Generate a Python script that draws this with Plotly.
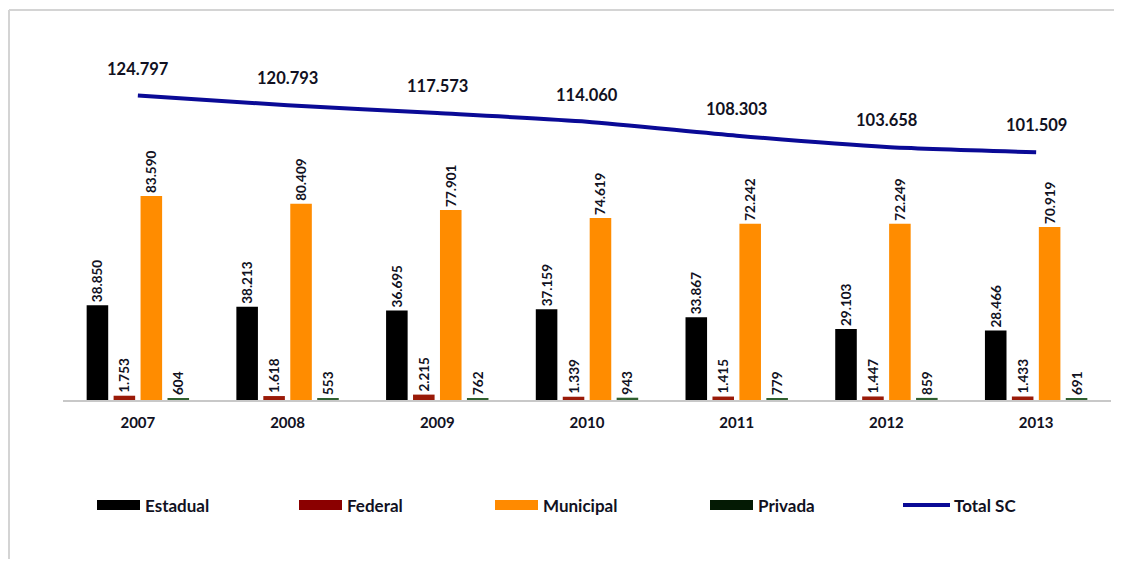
import plotly.graph_objects as go

years = ["2007", "2008", "2009", "2010", "2011", "2012", "2013"]
estadual = [38850, 38213, 36695, 37159, 33867, 29103, 28466]
federal = [1753, 1618, 2215, 1339, 1415, 1447, 1433]
municipal = [83590, 80409, 77901, 74619, 72242, 72249, 70919]
privada = [604, 553, 762, 943, 779, 859, 691]
total_sc = [124797, 120793, 117573, 114060, 108303, 103658, 101509]

series_names = ["Estadual", "Federal", "Municipal", "Privada"]
series_vals = [estadual, federal, municipal, privada]
bar_colors = ["#000000", "#9a1a08", "#ff8c00", "#2f5f2f"]
legend_colors = ["#000000", "#8b0000", "#ff8a00", "#041a04"]
line_color = "#0a0a96"

FONT = "Lato"
TXT = "#111122"


def fmt(v):
    return f"{v:,}".replace(",", ".")


fig = go.Figure()
for name, vals, col in zip(series_names, series_vals, bar_colors):
    fig.add_trace(go.Bar(
        x=years, y=vals, name=name, marker=dict(color=col, line=dict(width=0)),
        text=[fmt(v) for v in vals], textposition="outside", textangle=-90,
        constraintext="none",
        textfont=dict(family=FONT, size=13.5, color=TXT, weight="bold"),
        cliponaxis=False, showlegend=False,
    ))

fig.add_trace(go.Scatter(
    x=years, y=total_sc, name="Total SC", mode="lines",
    line=dict(color=line_color, width=4, shape="spline", smoothing=0.6),
    showlegend=False,
))

for i, v in enumerate(total_sc):
    fig.add_annotation(x=i, y=v, xref="x", yref="y", text=fmt(v), showarrow=False, yshift=27,
                       font=dict(family=FONT, size=16.5, color=TXT, weight="bold"))

# page has an 8px body margin; figure is sized to fit the window
OFF = 8
W, H = 1106, 551
ML, MR, MT, MB = 55, 3, 26, 159
PW = W - ML - MR
PH = H - MT - MB


def px(x):
    return (x - OFF - ML) / PW


def py(y):
    return (H - MB - (y - OFF)) / PH


# frame lines (top and left)
fig.add_shape(type="line", xref="paper", yref="paper", x0=px(9), x1=px(1130),
              y0=py(10), y1=py(10), line=dict(color="#d4d4d4", width=2))
fig.add_shape(type="line", xref="paper", yref="paper", x0=px(9), x1=px(9),
              y0=py(10), y1=py(580), line=dict(color="#d4d4d4", width=2))

# custom legend
leg_items = [("Estadual", 97), ("Federal", 299), ("Municipal", 495), ("Privada", 710)]
for (name, x0), col in zip(leg_items, legend_colors):
    fig.add_shape(type="rect", xref="paper", yref="paper",
                  x0=px(x0), x1=px(x0 + 43), y0=py(510), y1=py(500),
                  fillcolor=col, line=dict(width=0))
    fig.add_annotation(xref="paper", yref="paper", x=px(x0 + 46), y=py(505),
                       text=name, showarrow=False, xanchor="left", yanchor="middle",
                       font=dict(family=FONT, size=17, color=TXT, weight="bold"))
fig.add_shape(type="line", xref="paper", yref="paper", x0=px(903), x1=px(950),
              y0=py(505), y1=py(505), line=dict(color=line_color, width=4))
fig.add_annotation(xref="paper", yref="paper", x=px(952), y=py(505),
                   text="Total SC", showarrow=False, xanchor="left", yanchor="middle",
                   font=dict(family=FONT, size=17, color=TXT, weight="bold"))

fig.update_layout(
    width=W, height=H,
    margin=dict(l=ML, r=MR, t=MT, b=MB, autoexpand=False),
    paper_bgcolor="white", plot_bgcolor="white",
    barmode="group", bargap=0.28, bargroupgap=0.2,
    showlegend=False,
    xaxis=dict(type="category", range=[-0.5, 6.5], showgrid=False, showline=True, linecolor="#c8c8c8",
               linewidth=2, ticks="", ticklabelstandoff=8,
               tickfont=dict(family=FONT, size=15, color=TXT, weight="bold")),
    yaxis=dict(range=[0, 150000], visible=False, showgrid=False, zeroline=False),
)

fig.write_html("out.html")
